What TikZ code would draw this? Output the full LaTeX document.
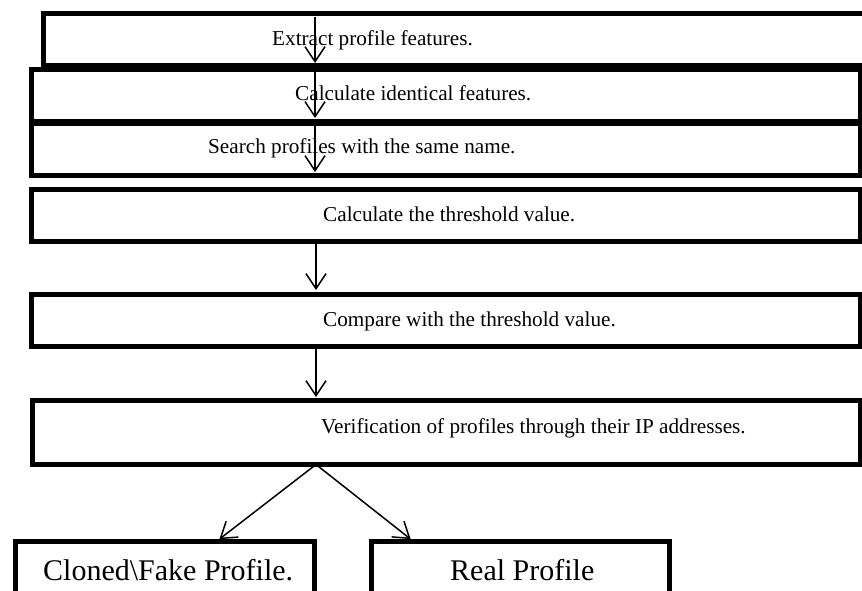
\documentclass[tikz,border=0pt]{standalone}
\usepackage{fontspec}
\setmainfont{Liberation Serif}
\usetikzlibrary{arrows.meta}
\begin{document}
\begin{tikzpicture}[x=1pt,y=-1pt,
  box/.style={draw=black,line width=5pt,rectangle,inner sep=0pt,outer sep=0pt,anchor=north west},
  lbl/.style={anchor=base west,inner sep=0pt,font=\fontsize{21.2}{25}\selectfont},
  biglbl/.style={anchor=base west,inner sep=0pt,font=\fontsize{30}{34}\selectfont},
  arr/.style={draw=black,line width=1.5pt,-{Straight Barb[length=15pt,width=20pt,line width=1.5pt]}}]
\useasboundingbox (0,0) rectangle (862,590);
\fill[white] (0,0) rectangle (862,590);
% boxes
\node[box,minimum width=856.5pt,minimum height=52.2pt] (b1) at (43.5,13.3) {};
\node[box,minimum width=829.5pt,minimum height=52pt] (b2) at (31,69.5) {};
\node[box,minimum width=829.5pt,minimum height=52pt] (b3) at (31,123.5) {};
\node[box,minimum width=829.5pt,minimum height=52pt] (b4) at (31,189.5) {};
\node[box,minimum width=829.5pt,minimum height=52pt] (b5) at (31,294.5) {};
\node[box,minimum width=828.5pt,minimum height=64.5pt] (b6) at (32,400) {};
\node[box,minimum width=299pt,minimum height=79pt] (b7) at (15.5,541) {};
\node[box,minimum width=298pt,minimum height=79pt] (b8) at (371,541) {};
% texts
\node[lbl] (t1) at (272,45) {Extract profile features.};
\node[lbl] (t2) at (295,100) {Calculate identical features.};
\node[lbl] (t3) at (208,153) {Search profiles with the same name.};
\node[lbl] (t4) at (323,221) {Calculate the threshold value.};
\node[lbl] (t5) at (323,326) {Compare with the threshold value.};
\node[lbl] (t6) at (321,433) {Verification of profiles through their IP addresses.};
\node[biglbl] (t7) at (43,580) {Cloned\textbackslash Fake Profile.};
\node[biglbl] (t8) at (450,580) {Real Profile};
% connector x positions
\coordinate (ax) at (315,0);
\coordinate (bx) at (316,0);
\coordinate (lx) at (217,0);
\coordinate (rx) at (413,0);
% arrows
\draw[arr,shorten <=3.5pt,shorten >=2.5pt] (b1.north -| ax) -- (b1.south -| ax);
\draw[arr,shorten <=2.5pt,shorten >=3.5pt] (b2.north -| ax) -- (b2.south -| ax);
\draw[arr,shorten <=2.5pt,shorten >=3.5pt] (b3.north -| ax) -- (b3.south -| ax);
\draw[arr,shorten <=2.5pt,shorten >=4.5pt] (b4.south -| bx) -- (b5.north -| bx);
\draw[arr,shorten <=2.5pt,shorten >=3pt] (b5.south -| bx) -- (b6.north -| bx);
\draw[arr,shorten <=2.5pt,shorten >=3pt] (b6.south -| bx) -- (b7.north -| lx);
\draw[arr,shorten <=2.5pt,shorten >=3pt] (b6.south -| bx) -- (b8.north -| rx);
\end{tikzpicture}
\end{document}
